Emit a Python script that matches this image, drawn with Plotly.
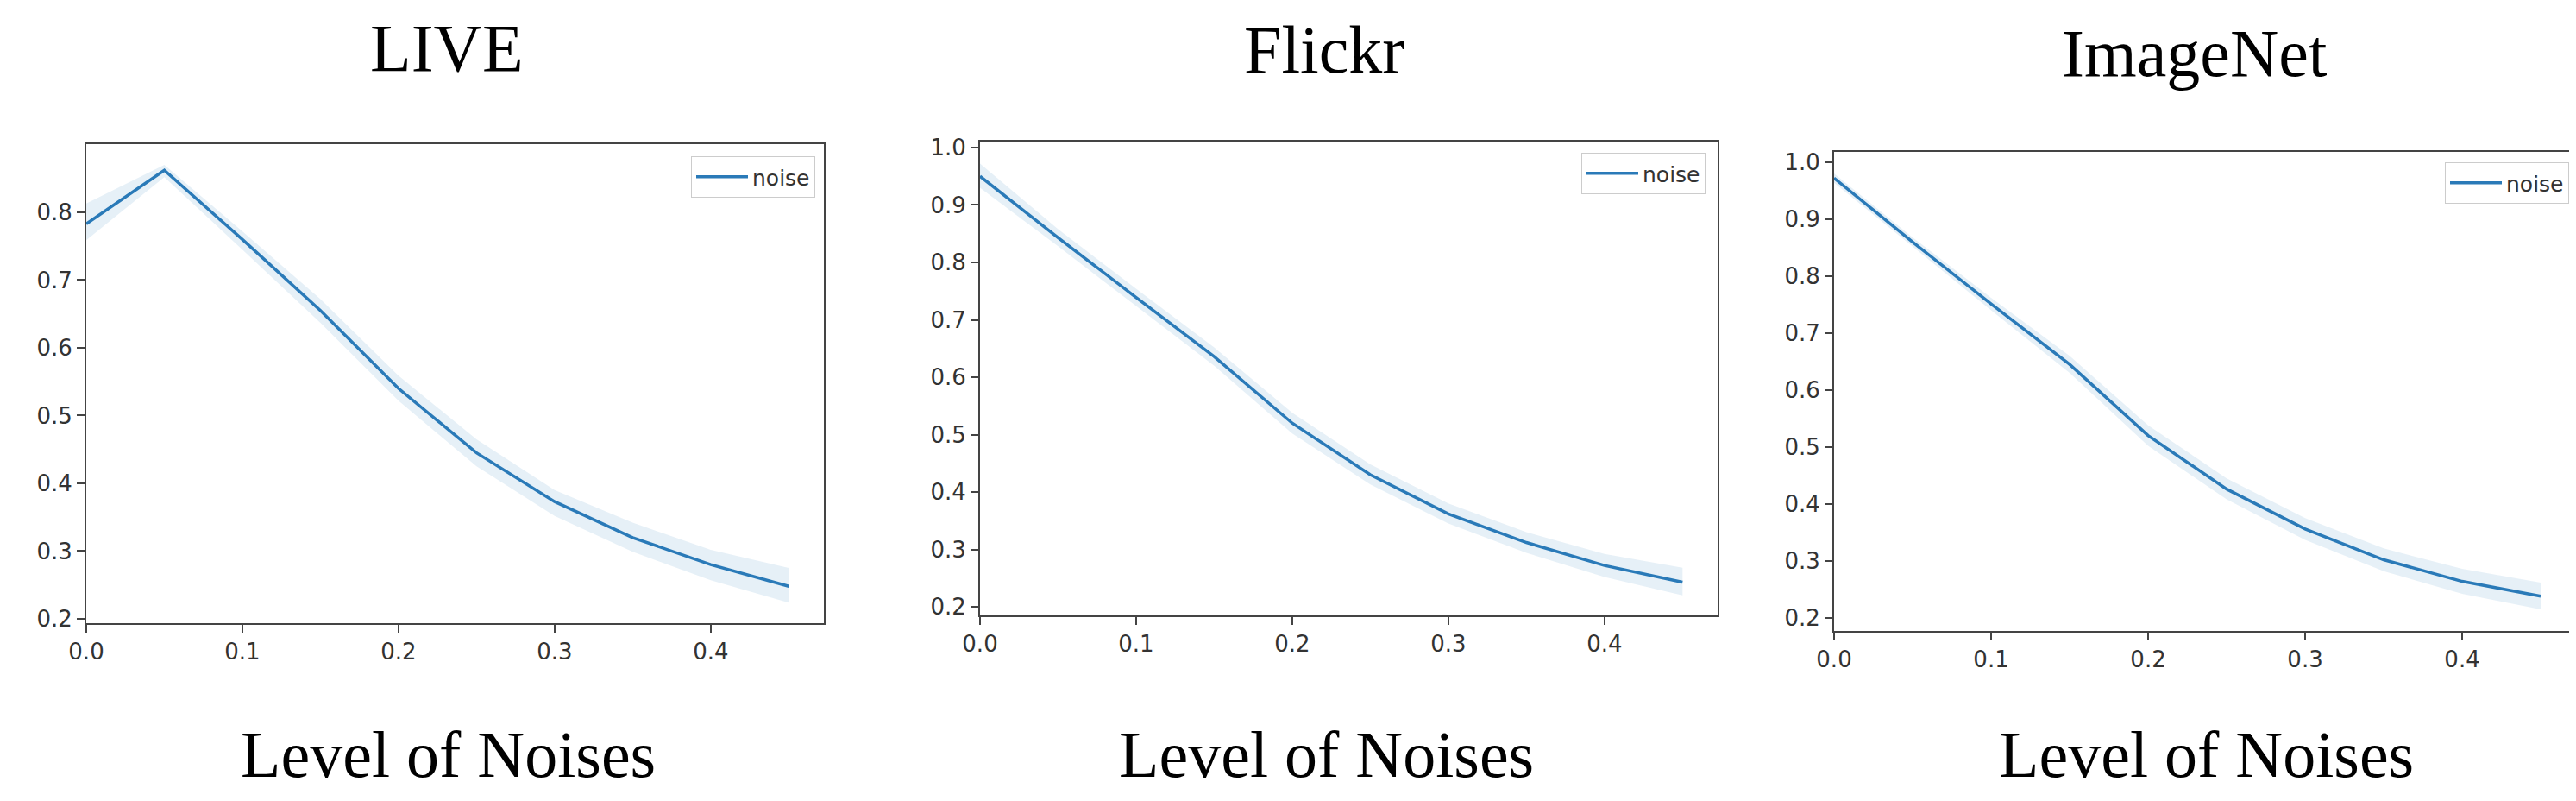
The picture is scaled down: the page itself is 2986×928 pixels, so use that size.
import plotly.graph_objects as go

# noise levels shared by all three panels
noise_levels = [0.0, 0.05, 0.10, 0.15, 0.20, 0.25, 0.30, 0.35, 0.40, 0.45]

live_mean = [0.783, 0.862, 0.760, 0.655, 0.540, 0.445, 0.373, 0.320, 0.280, 0.248]
live_low = [0.759, 0.852, 0.745, 0.637, 0.522, 0.425, 0.352, 0.299, 0.257, 0.224]
live_high = [0.813, 0.870, 0.772, 0.672, 0.559, 0.465, 0.390, 0.342, 0.302, 0.275]

flickr_mean = [0.950, 0.843, 0.739, 0.636, 0.520, 0.430, 0.362, 0.312, 0.272, 0.243]
flickr_low = [0.930, 0.828, 0.724, 0.620, 0.502, 0.413, 0.345, 0.294, 0.252, 0.220]
flickr_high = [0.972, 0.858, 0.754, 0.652, 0.538, 0.448, 0.380, 0.330, 0.292, 0.268]

imagenet_mean = [0.972, 0.860, 0.751, 0.645, 0.520, 0.426, 0.356, 0.302, 0.264, 0.238]
imagenet_low = [0.964, 0.852, 0.740, 0.630, 0.502, 0.408, 0.337, 0.282, 0.242, 0.215]
imagenet_high = [0.980, 0.868, 0.762, 0.660, 0.538, 0.445, 0.375, 0.322, 0.286, 0.262]

titles = ["LIVE", "Flickr", "ImageNet"]
xlabel = "Level of Noises"

W, H = 2986, 928
LINE = "#2a7ab8"
BAND = "rgba(31,119,180,0.11)"
AX = "#444444"

# pixel boxes of each panel: left, right, top, bottom
boxes = [(92, 947, 159, 714), (1128, 1983, 156, 705), (2118, 2978, 168, 723)]
yranges = [[0.1936, 0.9006], [0.185, 1.0105], [0.177, 1.018]]
yticks = [[0.2, 0.3, 0.4, 0.5, 0.6, 0.7, 0.8],
          [0.2, 0.3, 0.4, 0.5, 0.6, 0.7, 0.8, 0.9, 1.0],
          [0.2, 0.3, 0.4, 0.5, 0.6, 0.7, 0.8, 0.9, 1.0]]
legend_boxes = [(937, 173), (1969, 169), (2970, 180)]
# top edge of the text boxes (cap tops sit ~19px lower)
title_pos = [(510, 2), (1527, 4), (2536, 8)]
label_pos = [(511, 822), (1529, 822), (2549, 822)]

series = [(live_mean, live_low, live_high),
          (flickr_mean, flickr_low, flickr_high),
          (imagenet_mean, imagenet_low, imagenet_high)]

fig = go.Figure()
layout = {}
annotations = []
for i, (mean, low, high) in enumerate(series):
    n = "" if i == 0 else str(i + 1)
    xa, ya = "x" + n, "y" + n
    lg = "legend" + n
    fig.add_trace(go.Scatter(x=noise_levels, y=high, mode="lines", line=dict(width=0),
                             showlegend=False, hoverinfo="skip", xaxis=xa, yaxis=ya))
    fig.add_trace(go.Scatter(x=noise_levels, y=low, mode="lines", line=dict(width=0),
                             fill="tonexty", fillcolor=BAND, showlegend=False,
                             hoverinfo="skip", xaxis=xa, yaxis=ya))
    fig.add_trace(go.Scatter(x=noise_levels, y=mean, mode="lines", name="noise",
                             line=dict(color=LINE, width=3.5), xaxis=xa, yaxis=ya, legend=lg))

    l, r, t, b = boxes[i]
    axis_common = dict(showline=True, mirror=True, linecolor=AX, linewidth=2,
                       ticks="outside", ticklen=9, tickwidth=2, tickcolor=AX,
                       showgrid=False, zeroline=False, automargin=False,
                       tickfont=dict(family="DejaVu Sans", size=26, color="#333333"))
    layout["xaxis" + n] = dict(domain=[l / W, r / W], range=[0, 0.4725], anchor=ya,
                               tickvals=[0.0, 0.1, 0.2, 0.3, 0.4], tickformat=".1f",
                               **axis_common)
    layout["yaxis" + n] = dict(domain=[1 - b / H, 1 - t / H], range=yranges[i], anchor=xa,
                               tickvals=yticks[i], tickformat=".1f", **axis_common)
    lx, ly = legend_boxes[i]
    layout[lg] = dict(x=lx / W, y=1 - ly / H, xanchor="right", yanchor="top",
                      bgcolor="white", bordercolor="#cccccc", borderwidth=1,
                      itemwidth=60,
                      font=dict(family="DejaVu Sans", size=25, color="#333333"))

    tx, ty = title_pos[i]
    annotations.append(dict(text=titles[i], x=tx / W, y=1 - ty / H, xref="paper", yref="paper",
                            xanchor="center", yanchor="top", showarrow=False,
                            font=dict(family="Liberation Serif", size=78, color="black")))
    lx2, ly2 = label_pos[i]
    annotations.append(dict(text=xlabel, x=lx2 / W, y=1 - ly2 / H, xref="paper", yref="paper",
                            xanchor="center", yanchor="top", showarrow=False,
                            font=dict(family="Liberation Serif", size=76, color="black")))

fig.update_layout(width=W, height=H, margin=dict(l=0, r=0, t=0, b=0),
                  paper_bgcolor="white", plot_bgcolor="white",
                  annotations=annotations, **layout)

fig.write_html("out.html")
